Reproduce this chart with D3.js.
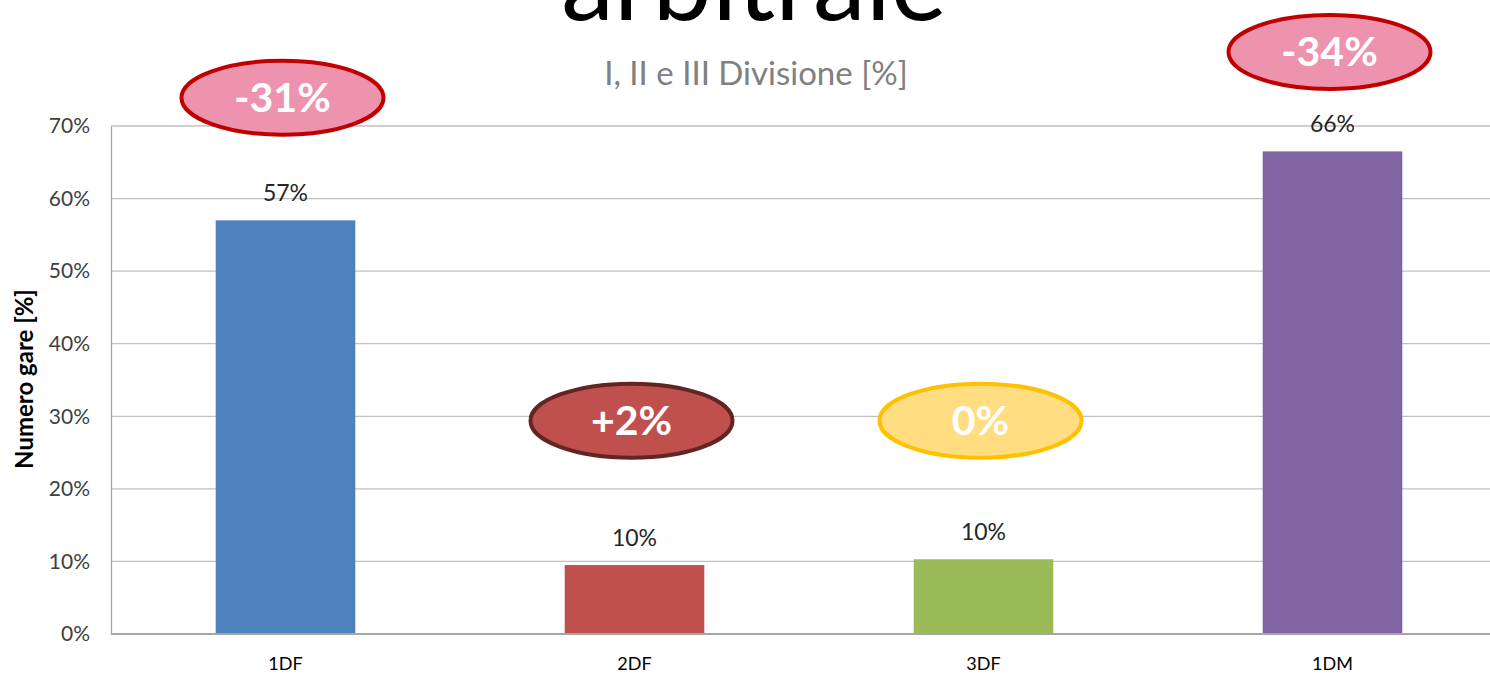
<!DOCTYPE html>
<html>
<head>
<meta charset="utf-8">
<script src="https://cdn.jsdelivr.net/npm/d3@7"></script>
<style>
  body { margin: 0; background: #fff; }
  svg { display: block; font-family: Lato, "Open Sans", sans-serif; }
</style>
</head>
<body>
<svg id="chart" width="1490" height="678"></svg>
<script>
// data
const categories = ["1DF", "2DF", "3DF", "1DM"];
const values = [57, 9.5, 10.3, 66.5];
const valueLabels = ["57%", "10%", "10%", "66%"];
const barColors = ["#4f81bd", "#c0504d", "#9bbb59", "#8064a2"];
const changeLabels = ["-31%", "+2%", "0%", "-34%"];
const changeLevels = [73.9, 29.4, 29.4, 80.2];
const changeFill = ["#ee93ad", "#c0504d", "#ffdd80", "#ee93ad"];
const changeStroke = ["#c00000", "#632523", "#ffc000", "#c00000"];
const yTicks = [0, 10, 20, 30, 40, 50, 60, 70];

const svg = d3.select("#chart");
const plotLeft = 111, plotRight = 1507, plotTop = 126, plotBottom = 634;

const x = d3.scaleBand().domain(categories).range([plotLeft, plotRight])
	.paddingInner(0.6).paddingOuter(0.3);
const y = d3.scaleLinear().domain([0, 70]).range([plotBottom, plotTop]);

// title, cut by the top edge like in the original slide
svg.append("text")
	.attr("x", 754).attr("y", 20)
	.attr("text-anchor", "middle")
	.attr("font-size", 106)
	.attr("fill", "#000")
	.text("arbitrale");

svg.append("text")
	.attr("x", 756).attr("y", 85)
	.attr("text-anchor", "middle")
	.attr("font-size", 33)
	.attr("fill", "#808080")
	.text("I, II e III Divisione [%]");

// gridlines
svg.append("g").selectAll("line")
	.data(yTicks.filter(d => d > 0))
	.enter().append("line")
	.attr("x1", plotLeft).attr("x2", 1490)
	.attr("y1", d => y(d)).attr("y2", d => y(d))
	.attr("stroke", "#c0c0c0").attr("stroke-width", 1.3);

// y axis
const yAxis = svg.append("g")
	.attr("transform", "translate(" + plotLeft + ",0)")
	.call(d3.axisLeft(y).tickValues(yTicks).tickSize(0).tickPadding(21).tickFormat(d => d + "%"));
yAxis.select(".domain").attr("stroke", "#a6a6a6").attr("stroke-width", 1.3);
yAxis.selectAll("text").attr("font-size", 21).attr("fill", "#404040").attr("font-family", "Lato, sans-serif");

svg.append("text")
	.attr("transform", "translate(33," + ((plotTop + plotBottom) / 2 - 1) + ") rotate(-90)")
	.attr("text-anchor", "middle")
	.attr("font-size", 24).attr("font-weight", "bold")
	.attr("fill", "#000")
	.text("Numero gare [%]");

// bars
svg.append("g").selectAll("rect")
	.data(categories)
	.enter().append("rect")
	.attr("x", d => x(d))
	.attr("width", x.bandwidth())
	.attr("y", (d, i) => y(values[i]))
	.attr("height", (d, i) => y(0) - y(values[i]))
	.attr("fill", (d, i) => barColors[i]);

// x axis
const xAxis = svg.append("g")
	.attr("transform", "translate(0," + plotBottom + ")")
	.call(d3.axisBottom(x).tickSize(0).tickPadding(23));
xAxis.select(".domain").attr("d", "M" + plotLeft + ",0H1490").attr("stroke", "#a6a6a6").attr("stroke-width", 2);
xAxis.selectAll("text").attr("font-size", 18).attr("fill", "#000").attr("font-family", "Lato, sans-serif");

// value labels
svg.append("g").selectAll("text")
	.data(categories)
	.enter().append("text")
	.attr("x", d => x(d) + x.bandwidth() / 2)
	.attr("y", (d, i) => y(values[i]) - 19)
	.attr("text-anchor", "middle")
	.attr("font-size", 23).attr("fill", "#262626")
	.text((d, i) => valueLabels[i]);

// change badges
const badge = svg.append("g").selectAll("g")
	.data(categories)
	.enter().append("g")
	.attr("transform", (d, i) => "translate(" + (x(d) + x.bandwidth() / 2 - 3) + "," + y(changeLevels[i]) + ")");
badge.append("ellipse")
	.attr("rx", 101).attr("ry", 37)
	.attr("fill", (d, i) => changeFill[i])
	.attr("stroke", (d, i) => changeStroke[i])
	.attr("stroke-width", 4);
badge.append("text")
	.attr("y", 14)
	.attr("text-anchor", "middle")
	.attr("font-size", 41).attr("font-weight", "bold")
	.attr("fill", "#fff")
	.text((d, i) => changeLabels[i]);
</script>
</body>
</html>
